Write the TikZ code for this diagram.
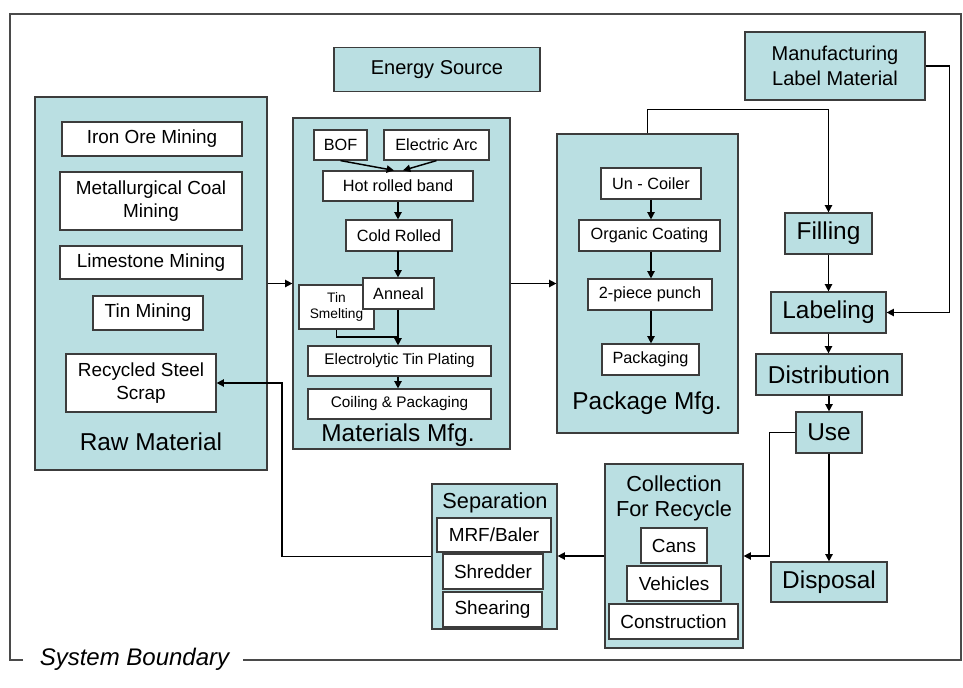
\documentclass[tikz,border=0pt]{standalone}
\usepackage{fontspec}
\setmainfont{Liberation Sans}
\usetikzlibrary{arrows.meta,calc}
\definecolor{panel}{HTML}{BADFE2}
\definecolor{edge}{HTML}{3C3C3C}
\definecolor{bound}{HTML}{4A4A4A}
\begin{document}
\begin{tikzpicture}[x=0.75pt,y=-0.75pt,
  sz/.style 2 args={minimum width=#1*0.75pt, minimum height=#2*0.75pt},
  panelbox/.style={draw=edge, fill=panel, line width=0.9pt, inner sep=0pt, align=center},
  itembox/.style={draw=edge, fill=white, line width=0.9pt, inner sep=0pt, align=center},
  caption/.style={inner sep=0pt, align=center},
  fbig/.style={font=\fontsize{18.3}{22}\selectfont},
  fsub/.style={font=\fontsize{16.3}{18.8}\selectfont},
  fmid/.style={font=\fontsize{15}{18.8}\selectfont},
  fitem/.style={font=\fontsize{14.2}{17}\selectfont},
  fmat/.style={font=\fontsize{12.2}{14}\selectfont},
  fmatsm/.style={font=\fontsize{11.5}{13}\selectfont},
  ftiny/.style={font=\fontsize{10.3}{11.4}\selectfont},
  flow/.style={draw=black, line width=1.1pt},
  arr/.style={flow, -{Triangle[length=5.5pt,width=5.5pt]}},
]
\useasboundingbox (0,0) rectangle (963,687);
\fill[white] (0,0) rectangle (963,687);

% system boundary
\node[caption, font=\itshape\fontsize{18}{20}\selectfont] (sysb) at (134.5,659) {System Boundary};
\draw[bound, line width=0.9pt] (23,660) -- (10,660) -- (10,14) -- (961,14) -- (961,660) -- (243,660);

% energy and label material
\node[panelbox, fmid, sz={206}{44}] (energy) at (437,69.5) {Energy Source};
\node[panelbox, fmid, sz={180}{68}] (mfglabel) at (835,66) {Manufacturing\\Label Material};

% raw material
\node[panelbox, sz={232}{373}] (raw) at (151,283.5) {};
\node[itembox, fitem, sz={180}{34}] (iron) at (152,139) {Iron Ore Mining};
\node[itembox, fitem, sz={182}{58}] (coal) at (151,201) {Metallurgical Coal\\Mining};
\node[itembox, fitem, sz={182}{33}] (lime) at (151,262.5) {Limestone Mining};
\node[itembox, fitem, sz={110}{34}] (tinmine) at (148,313) {Tin Mining};
\node[itembox, fitem, sz={150}{58}] (scrap) at (141,383) {Recycled Steel\\Scrap};
\node[caption, fbig] (rawlbl) at (151,442) {Raw Material};

% materials manufacturing
\node[panelbox, sz={217}{331}] (mat) at (401.5,283.5) {};
\node[itembox, fmat, sz={53}{30}] (bof) at (340.5,145) {BOF};
\node[itembox, fmat, sz={105}{30}] (arc) at (436.5,145) {Electric Arc};
\node[itembox, fmat, sz={150}{30}] (hot) at (398,186) {Hot rolled band};
\node[itembox, fmat, sz={106}{31}] (cold) at (399,235.5) {Cold Rolled};
\node[itembox, ftiny, sz={75}{44}] (smelt) at (336.5,307) {Tin\\Smelting};
\node[itembox, fmat, sz={71}{31}] (anneal) at (398.5,293.5) {Anneal};
\node[itembox, fmatsm, sz={183}{30}] (elec) at (399.5,361) {Electrolytic Tin Plating};
\node[itembox, fmatsm, sz={183}{30}] (coil) at (399.5,404) {Coiling \& Packaging};
\node[caption, fbig] (matlbl) at (398,435) {Materials Mfg.};

% package manufacturing
\node[panelbox, sz={181}{299}] (pkg) at (647.5,283.5) {};
\node[itembox, fmat, sz={100}{31}] (uncoil) at (651,183.5) {Un - Coiler};
\node[itembox, fmat, sz={141}{31}] (organic) at (649.5,235.5) {Organic Coating};
\node[itembox, fmat, sz={124}{31}] (punch) at (650,294.5) {2-piece punch};
\node[itembox, fmat, sz={97}{31}] (packg) at (650.5,359.5) {Packaging};
\node[caption, fbig] (pkglbl) at (647,403) {Package Mfg.};

% product life chain
\node[panelbox, fbig, sz={87}{41}] (filling) at (828.5,233.5) {Filling};
\node[panelbox, fbig, sz={115}{41}] (labeling) at (828.5,312.5) {Labeling};
\node[panelbox, fbig, sz={146}{41}] (distrib) at (829,374.5) {Distribution};
\node[panelbox, fbig, sz={66}{41}] (use) at (829,432.5) {Use};
\node[panelbox, fbig, sz={116}{40}] (disposal) at (829,582) {Disposal};

% collection for recycle
\node[panelbox, sz={138}{184}] (coll) at (674,556) {};
\node[caption, fsub] (colllbl) at (674,498.5) {Collection\\For Recycle};
\node[itembox, fitem, sz={66}{35}] (cans) at (674,545.5) {Cans};
\node[itembox, fitem, sz={94}{35}] (vehicles) at (674,583.5) {Vehicles};
\node[itembox, fitem, sz={129}{35}] (constr) at (673.5,621.5) {Construction};

% separation
\node[panelbox, sz={125}{145}] (sep) at (494.5,556.5) {};
\node[caption, fsub] (seplbl) at (495,503) {Separation};
\node[itembox, fitem, sz={114}{34}] (mrf) at (494,535) {MRF/Baler};
\node[itembox, fitem, sz={100}{35}] (shred) at (493,571.5) {Shredder};
\node[itembox, fitem, sz={99}{35}] (shear) at (492.5,609.5) {Shearing};

% junction points
\coordinate (tinjoin) at (398,337);
\coordinate (scrapturn) at (282,383);

% flows inside materials manufacturing
\draw[arr] (bof.south) -- ($(hot.north)+(-4,0)$);
\draw[arr] (arc.south) -- ($(hot.north)+(5,0)$);
\draw[arr] (hot.south) -- (hot.south |- cold.north);
\draw[arr] (cold.south) -- (cold.south -| hot.south) -- (hot.south |- anneal.north);
\draw[arr] (hot.south |- anneal.south) -- (hot.south |- elec.north);
\draw[flow] (smelt.south) |- (tinjoin);
\draw[arr] (hot.south |- elec.south) -- (hot.south |- coil.north);

% flows inside package manufacturing
\draw[arr] (uncoil.south) -- (uncoil.south |- organic.north);
\draw[arr] (uncoil.south |- organic.south) -- (uncoil.south |- punch.north);
\draw[arr] (uncoil.south |- punch.south) -- (uncoil.south |- packg.north);

% main flows
\draw[arr] (raw.east) -- (mat.west);
\draw[arr] (mat.east) -- (pkg.west);
\draw[arr] (pkg.north) -- ++(0,-24) -| (filling.north);
\draw[arr] (mfglabel.east) -- ++(24,0) |- (labeling.east);
\draw[arr] (filling.south) -- (labeling.north -| filling.south);
\draw[arr] (labeling.south) -- (distrib.north -| labeling.south);
\draw[arr] (distrib.south) -- (use.north);
\draw[arr] (use.south) -- (disposal.north);
\draw[arr] (use.west) -- ++(-26,0) |- (coll.east);
\draw[arr] (coll.west) -- (sep.east |- coll.west);
\draw[arr] (sep.west) -| (scrapturn) -- (scrap.east);
\end{tikzpicture}
\end{document}
